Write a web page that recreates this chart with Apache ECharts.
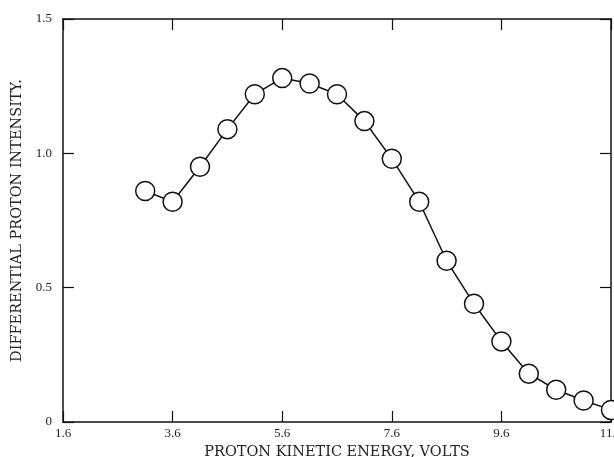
<!DOCTYPE html>
<html>
<head>
<meta charset="utf-8">
<script src="https://cdn.jsdelivr.net/npm/echarts@6/dist/echarts.min.js"></script>
<style>
  html, body { margin: 0; padding: 0; background: #fff; }
  #chart { width: 614px; height: 457px; }
</style>
</head>
<body>
<div id="chart"></div>
<script>
  // proton energy (volts) and differential intensity
  var energy = [3.1, 3.6, 4.1, 4.6, 5.1, 5.6, 6.1, 6.6, 7.1, 7.6, 8.1, 8.6, 9.1, 9.6, 10.1, 10.6, 11.1, 11.6];
  var intensity = [0.86, 0.82, 0.95, 1.09, 1.22, 1.28, 1.26, 1.22, 1.12, 0.98, 0.82, 0.60, 0.44, 0.30, 0.18, 0.12, 0.08, 0.045];
  var xTickLabels = ['1.6', '3.6', '5.6', '7.6', '9.6', '11.6'];
  var yTickLabels = ['0', '0.5', '1.0', '1.5'];

  var ink = '#111';
  var serif = 'Liberation Serif';

  var tickStyle = { show: true, inside: true, length: 11, lineStyle: { color: ink, width: 1.2 } };
  // onZero off, otherwise the top/right frame axes jump to the zero line
  var lineStyle = { show: true, onZero: false, lineStyle: { color: ink, width: 1.5 } };

  var options = {
    backgroundColor: '#fff',
    animation: false,
    grid: {
      left: 63,
      right: 3,
      top: 19,
      bottom: 35,
      containLabel: false,
      outerBoundsMode: 'none'
    },
    xAxis: [{
      // bottom axis, ticks counted from 0 so 1.6 lands on a tick
      type: 'value',
      position: 'bottom',
      min: 0,
      max: 10,
      interval: 2,
      axisLine: lineStyle,
      axisTick: tickStyle,
      splitLine: { show: false },
      axisLabel: {
        margin: 5,
        color: '#222',
        fontFamily: serif,
        fontSize: 13,
        formatter: function (v) { return xTickLabels[Math.round(v / 2)]; }
      },
      name: 'PROTON KINETIC ENERGY, VOLTS',
      nameLocation: 'middle',
      nameGap: 14,
      nameTextStyle: { color: '#222', fontFamily: 'DejaVu Serif', fontSize: 14.5 }
    }, {
      type: 'value',
      position: 'top',
      min: 0,
      max: 10,
      interval: 2,
      axisLine: lineStyle,
      axisTick: tickStyle,
      axisLabel: { show: false },
      splitLine: { show: false }
    }, {
      // hidden axis that carries the real energy values
      type: 'value',
      show: false,
      min: 1.6,
      max: 11.6
    }],
    yAxis: [{
      type: 'value',
      position: 'left',
      min: 0,
      max: 1.5,
      interval: 0.5,
      axisLine: lineStyle,
      axisTick: tickStyle,
      splitLine: { show: false },
      axisLabel: {
        margin: 11,
        color: '#222',
        fontFamily: serif,
        fontSize: 13,
        formatter: function (v) { return yTickLabels[Math.round(v / 0.5)]; }
      },
      name: 'DIFFERENTIAL PROTON INTENSITY.',
      nameLocation: 'middle',
      nameGap: 34,
      nameTextStyle: { color: '#222', fontFamily: 'DejaVu Serif', fontSize: 14.5 }
    }, {
      type: 'value',
      position: 'right',
      min: 0,
      max: 1.5,
      interval: 0.5,
      axisLine: lineStyle,
      axisTick: tickStyle,
      axisLabel: { show: false },
      splitLine: { show: false }
    }],
    series: [{
      type: 'line',
      xAxisIndex: 2,
      yAxisIndex: 0,
      data: energy.map(function (x, i) { return [x, intensity[i]]; }),
      symbol: 'circle',
      symbolSize: 19,
      showAllSymbol: true,
      clip: false,
      lineStyle: { color: ink, width: 1.5 },
      itemStyle: { color: '#fff', borderColor: ink, borderWidth: 1.5 },
      emphasis: { disabled: true },
      z: 5
    }]
  };

  var myEcharts = echarts.init(document.getElementById('chart'));
  myEcharts.setOption(options, true);
  window.addEventListener('resize', function () {
    myEcharts.resize();
  });
</script>
</body>
</html>
